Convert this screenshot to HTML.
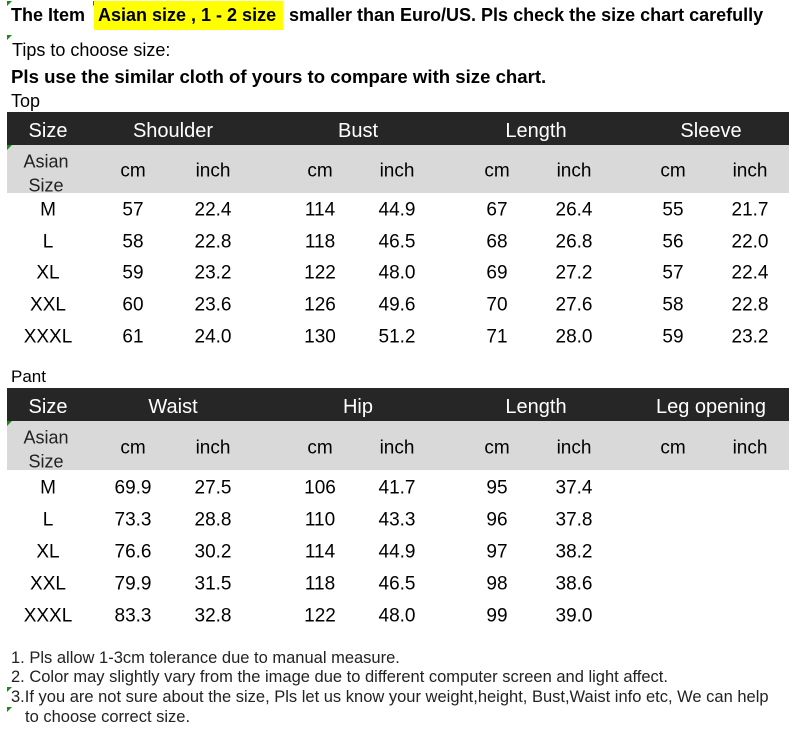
<!DOCTYPE html>
<html><head><meta charset="utf-8"><style>
body{margin:0;width:798px;height:747px;background:#fff;position:relative;font-family:"Liberation Sans",Arial,sans-serif;overflow:hidden}
.a{position:absolute;white-space:nowrap;color:#000}
.c{position:absolute;transform:translate(-50%,-43%);white-space:nowrap}
.bar{position:absolute;left:7px;width:782px;background:#262626}
.gr{position:absolute;left:7px;width:782px;background:#d9d9d9}
.h{color:#fff;font-size:20px}
.d{font-size:19px}
.g{position:absolute;width:0;height:0;border-top:5px solid #1a8a1a;border-right:5px solid transparent}
.n{font-size:16.5px;color:#222}
.t{font-size:18px;font-weight:bold;top:5px}
</style></head><body>
<div class="g" style="left:7px;top:1px"></div>
<div class="g" style="left:93px;top:1px"></div>
<div class="a" style="left:94px;top:1px;width:189px;height:29px;background:#ffff00"></div>
<div class="a t" style="left:11px">The Item</div>
<div class="a t" style="left:98px">Asian size , 1 - 2 size</div>
<div class="a t" style="left:289px">smaller than Euro/US. Pls check the size chart carefully</div>
<div class="g" style="left:7px;top:35px"></div>
<div class="a" style="left:12px;top:40px;font-size:18px">Tips to choose size:</div>
<div class="a" style="left:11px;top:66px;font-size:18.6px;font-weight:bold">Pls use the similar cloth of yours to compare with size chart.</div>
<div class="a" style="left:11px;top:91px;font-size:18px">Top</div>

<div class="bar" style="top:112px;height:33px"></div>
<div class="gr" style="top:145px;height:48px"></div>
<div class="g" style="left:7px;top:145px"></div>
<div class="c h" style="left:48px;top:130px">Size</div>
<div class="c h" style="left:173px;top:130px">Shoulder</div>
<div class="c h" style="left:358px;top:130px">Bust</div>
<div class="c h" style="left:536px;top:130px">Length</div>
<div class="c h" style="left:711px;top:130px">Sleeve</div>
<div class="c" style="left:46px;top:170px;font-size:18px;text-align:center;line-height:24px;color:#222">Asian<br>Size</div>
<div class="c d" style="left:133px;top:170px">cm</div><div class="c d" style="left:213px;top:170px">inch</div>
<div class="c d" style="left:320px;top:170px">cm</div><div class="c d" style="left:397px;top:170px">inch</div>
<div class="c d" style="left:497px;top:170px">cm</div><div class="c d" style="left:574px;top:170px">inch</div>
<div class="c d" style="left:673px;top:170px">cm</div><div class="c d" style="left:750px;top:170px">inch</div>

<div class="c d" style="left:48px;top:209px">M</div><div class="c d" style="left:133px;top:209px">57</div><div class="c d" style="left:213px;top:209px">22.4</div><div class="c d" style="left:320px;top:209px">114</div><div class="c d" style="left:397px;top:209px">44.9</div><div class="c d" style="left:497px;top:209px">67</div><div class="c d" style="left:574px;top:209px">26.4</div><div class="c d" style="left:673px;top:209px">55</div><div class="c d" style="left:750px;top:209px">21.7</div>
<div class="c d" style="left:48px;top:241px">L</div><div class="c d" style="left:133px;top:241px">58</div><div class="c d" style="left:213px;top:241px">22.8</div><div class="c d" style="left:320px;top:241px">118</div><div class="c d" style="left:397px;top:241px">46.5</div><div class="c d" style="left:497px;top:241px">68</div><div class="c d" style="left:574px;top:241px">26.8</div><div class="c d" style="left:673px;top:241px">56</div><div class="c d" style="left:750px;top:241px">22.0</div>
<div class="c d" style="left:48px;top:272px">XL</div><div class="c d" style="left:133px;top:272px">59</div><div class="c d" style="left:213px;top:272px">23.2</div><div class="c d" style="left:320px;top:272px">122</div><div class="c d" style="left:397px;top:272px">48.0</div><div class="c d" style="left:497px;top:272px">69</div><div class="c d" style="left:574px;top:272px">27.2</div><div class="c d" style="left:673px;top:272px">57</div><div class="c d" style="left:750px;top:272px">22.4</div>
<div class="c d" style="left:48px;top:304px">XXL</div><div class="c d" style="left:133px;top:304px">60</div><div class="c d" style="left:213px;top:304px">23.6</div><div class="c d" style="left:320px;top:304px">126</div><div class="c d" style="left:397px;top:304px">49.6</div><div class="c d" style="left:497px;top:304px">70</div><div class="c d" style="left:574px;top:304px">27.6</div><div class="c d" style="left:673px;top:304px">58</div><div class="c d" style="left:750px;top:304px">22.8</div>
<div class="c d" style="left:48px;top:336px">XXXL</div><div class="c d" style="left:133px;top:336px">61</div><div class="c d" style="left:213px;top:336px">24.0</div><div class="c d" style="left:320px;top:336px">130</div><div class="c d" style="left:397px;top:336px">51.2</div><div class="c d" style="left:497px;top:336px">71</div><div class="c d" style="left:574px;top:336px">28.0</div><div class="c d" style="left:673px;top:336px">59</div><div class="c d" style="left:750px;top:336px">23.2</div>

<div class="a" style="left:11px;top:367px;font-size:17px">Pant</div>
<div class="bar" style="top:388px;height:33px"></div>
<div class="gr" style="top:421px;height:49px"></div>
<div class="g" style="left:7px;top:421px"></div>
<div class="c h" style="left:48px;top:406px">Size</div>
<div class="c h" style="left:173px;top:406px">Waist</div>
<div class="c h" style="left:358px;top:406px">Hip</div>
<div class="c h" style="left:536px;top:406px">Length</div>
<div class="c h" style="left:711px;top:406px">Leg opening</div>
<div class="c" style="left:46px;top:446px;font-size:18px;text-align:center;line-height:24px;color:#222">Asian<br>Size</div>
<div class="c d" style="left:133px;top:447px">cm</div><div class="c d" style="left:213px;top:447px">inch</div>
<div class="c d" style="left:320px;top:447px">cm</div><div class="c d" style="left:397px;top:447px">inch</div>
<div class="c d" style="left:497px;top:447px">cm</div><div class="c d" style="left:574px;top:447px">inch</div>
<div class="c d" style="left:673px;top:447px">cm</div><div class="c d" style="left:750px;top:447px">inch</div>

<div class="c d" style="left:48px;top:487px">M</div><div class="c d" style="left:133px;top:487px">69.9</div><div class="c d" style="left:213px;top:487px">27.5</div><div class="c d" style="left:320px;top:487px">106</div><div class="c d" style="left:397px;top:487px">41.7</div><div class="c d" style="left:497px;top:487px">95</div><div class="c d" style="left:574px;top:487px">37.4</div>
<div class="c d" style="left:48px;top:519px">L</div><div class="c d" style="left:133px;top:519px">73.3</div><div class="c d" style="left:213px;top:519px">28.8</div><div class="c d" style="left:320px;top:519px">110</div><div class="c d" style="left:397px;top:519px">43.3</div><div class="c d" style="left:497px;top:519px">96</div><div class="c d" style="left:574px;top:519px">37.8</div>
<div class="c d" style="left:48px;top:551px">XL</div><div class="c d" style="left:133px;top:551px">76.6</div><div class="c d" style="left:213px;top:551px">30.2</div><div class="c d" style="left:320px;top:551px">114</div><div class="c d" style="left:397px;top:551px">44.9</div><div class="c d" style="left:497px;top:551px">97</div><div class="c d" style="left:574px;top:551px">38.2</div>
<div class="c d" style="left:48px;top:583px">XXL</div><div class="c d" style="left:133px;top:583px">79.9</div><div class="c d" style="left:213px;top:583px">31.5</div><div class="c d" style="left:320px;top:583px">118</div><div class="c d" style="left:397px;top:583px">46.5</div><div class="c d" style="left:497px;top:583px">98</div><div class="c d" style="left:574px;top:583px">38.6</div>
<div class="c d" style="left:48px;top:615px">XXXL</div><div class="c d" style="left:133px;top:615px">83.3</div><div class="c d" style="left:213px;top:615px">32.8</div><div class="c d" style="left:320px;top:615px">122</div><div class="c d" style="left:397px;top:615px">48.0</div><div class="c d" style="left:497px;top:615px">99</div><div class="c d" style="left:574px;top:615px">39.0</div>

<div class="a n" style="left:11px;top:649px">1. Pls allow 1-3cm tolerance due to manual measure.</div>
<div class="a n" style="left:11px;top:668px">2. Color may slightly vary from the image due to different computer screen and light affect.</div>
<div class="g" style="left:7px;top:687px"></div>
<div class="a n" style="left:11px;top:688px">3.If you are not sure about the size, Pls let us know your weight,height, Bust,Waist info etc, We can help</div>
<div class="g" style="left:7px;top:707px"></div>
<div class="a n" style="left:25px;top:708px">to choose correct size.</div>
</body></html>
